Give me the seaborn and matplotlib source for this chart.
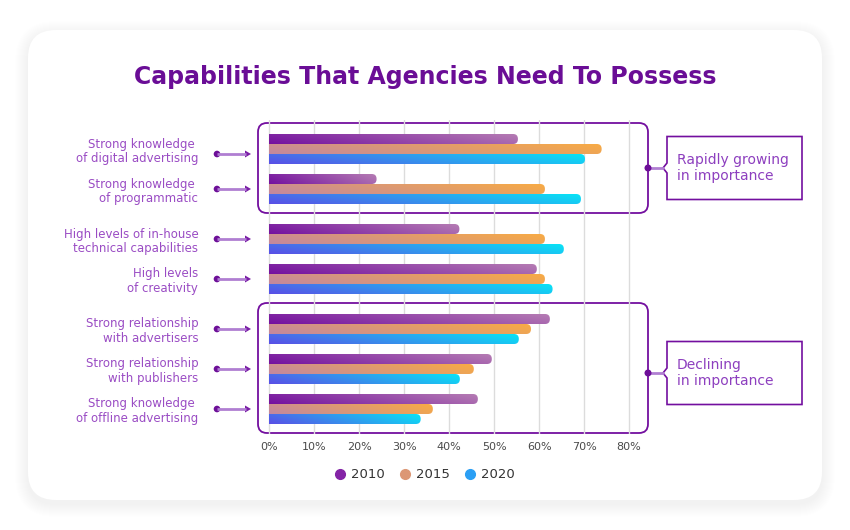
import numpy as np
import pandas as pd
import matplotlib
matplotlib.use("Agg")
import matplotlib.pyplot as plt
import seaborn as sns
from matplotlib.patches import FancyBboxPatch, Polygon, Circle
from matplotlib.colors import to_rgb
from matplotlib.lines import Line2D

# ---------------- data ----------------
capabilities = [
    "Strong knowledge \nof digital advertising",
    "Strong knowledge \nof programmatic",
    "High levels of in-house\ntechnical capabilities",
    "High levels\nof creativity",
    "Strong relationship\nwith advertisers",
    "Strong relationship\nwith publishers",
    "Strong knowledge \nof offline advertising",
]
groups = [0, 0, 1, 1, 2, 2, 2]  # 0 = growing, 1 = other, 2 = declining
years = ["2010", "2015", "2020"]
share_2010 = [55.3, 23.9, 42.3, 59.5, 62.4, 49.5, 46.4]
share_2015 = [73.9, 61.3, 61.3, 61.3, 58.2, 45.5, 36.4]
share_2020 = [70.2, 69.3, 65.5, 63.0, 55.5, 42.4, 33.7]
callouts = {0: "Rapidly growing\nin importance", 2: "Declining\nin importance"}
x_ticks = [0, 10, 20, 30, 40, 50, 60, 70, 80]

# gradient start/end colours per year
grad = {
    "2010": ("#73109f", "#b57cb3"),
    "2015": ("#c3889f", "#f8ab44"),
    "2020": ("#5a4fe6", "#08e4f6"),
}
legend_col = {"2010": "#8424a6", "2015": "#dc9775", "2020": "#2b9ff4"}

PURPLE = "#730f9f"
LIGHT = "#b07ed2"
LABEL = "#9a4cc4"

sns.set_style("white")
plt.rcParams["font.family"] = ["DejaVu Sans"]

W, H = 850, 530
fig = plt.figure(figsize=(8.5, 5.3), dpi=100)
fig.patch.set_facecolor("white")

# background layer in pixel coords
bg = fig.add_axes([0, 0, 1, 1], zorder=0)
bg.set_xlim(0, W)
bg.set_ylim(H, 0)
bg.axis("off")

# soft shadow + white card
for k in range(1, 14):
    bg.add_patch(FancyBboxPatch((28 - k, 30 - k + 4), 794 + 2 * k, 470 + 2 * k,
                                boxstyle=f"round,pad=0,rounding_size={28 + k}",
                                fc="black", ec="none", alpha=0.0035))
bg.add_patch(FancyBboxPatch((28, 30), 794, 470, boxstyle="round,pad=0,rounding_size=28",
                            fc="white", ec="none"))

bg.text(425, 77, "Capabilities That Agencies Need To Possess", ha="center", va="center",
        fontsize=17, fontweight="bold", color="#6a0d96")

# ---------------- bars ----------------
row_pos = [i + 0.25 * g for i, g in enumerate(groups)]
df = pd.DataFrame({
    "pos": row_pos * 3,
    "year": np.repeat(years, len(capabilities)),
    "share": share_2010 + share_2015 + share_2020,
})

ax = fig.add_axes([258 / W, (H - 434) / H, 390 / W, 314 / H], zorder=1)
ax.patch.set_alpha(0)
sns.barplot(data=df, x="share", y="pos", hue="year", orient="h", native_scale=True,
            width=0.75, palette=legend_col, errorbar=None, legend=False, ax=ax)

xlim = (-2.44, 84.2)
ylim = (7.125, -0.725)
ax.set_xlim(*xlim)
ax.set_ylim(*ylim)

px_x = ax.transData.transform((1, 0))[0] - ax.transData.transform((0, 0))[0]
px_y = abs(ax.transData.transform((0, 1))[1] - ax.transData.transform((0, 0))[1])
rx = 4.8 / px_x
ry = 4.8 / px_y

u = np.linspace(0, 1, 256)[None, :]
v = np.linspace(1, 0, 12)[:, None]
t = np.clip(0.82 * u + 0.18 * v, 0, 1)[..., None]

for year, cont in zip(years, ax.containers):
    c0 = np.array(to_rgb(grad[year][0]))
    c1 = np.array(to_rgb(grad[year][1]))
    rgb = c0 * (1 - t) + c1 * t
    for bar in cont:
        x0, y0, w, h = bar.get_x(), bar.get_y(), bar.get_width(), bar.get_height()
        bar.set_visible(False)
        clip = FancyBboxPatch((x0 - 2 * rx, y0), w + 2 * rx, h,
                              boxstyle=f"round,pad=0,rounding_size={rx}",
                              mutation_aspect=ry / rx, transform=ax.transData,
                              fc="none", ec="none")
        im = ax.imshow(rgb, extent=(x0, x0 + w, y0 + h, y0), aspect="auto",
                       interpolation="bilinear", zorder=3)
        im.set_clip_path(clip)

ax.set_xlim(*xlim)
ax.set_ylim(*ylim)
ax.set_xticks(x_ticks, labels=[f"{x}%" for x in x_ticks])
ax.set_yticks(row_pos, labels=capabilities)
ax.grid(axis="x", color="#dcdcdc", lw=1)
ax.grid(axis="y", visible=False)
ax.set_axisbelow(True)
ax.tick_params(axis="x", length=0, pad=5.5, labelsize=8, labelcolor="#4a4a4a")
ax.tick_params(axis="y", length=0, pad=43, labelsize=8.5, labelcolor=LABEL)
for lab in ax.get_yticklabels():
    lab.set_linespacing(1.15)
ax.set_xlabel("")
ax.set_ylabel("")
sns.despine(ax=ax, left=True, bottom=True)


def to_px(y):
    return H - ax.transData.transform((0, y))[1]


# ---------------- arrows next to labels ----------------
arrow_dy = [5, 0, 0, 0, 0, 0, 0]
for p, dy in zip(row_pos, arrow_dy):
    yc = to_px(p) + dy
    bg.plot([217, 246], [yc, yc], color=LIGHT, lw=2, solid_capstyle="butt")
    bg.add_patch(Polygon([[245, yc - 3.5], [251, yc], [245, yc + 3.5]], closed=True,
                         fc="#7a1da6", ec="none"))
    bg.add_patch(Circle((217, yc), 3.3, fc="#6d0f98", ec="none"))

# ---------------- brackets + callouts ----------------
left_px = ax.transData.transform((xlim[0], 0))[0]
right_px = ax.transData.transform((xlim[1], 0))[0]
callout_dy = {0: 0, 2: 5}
for g, text in callouts.items():
    rows = [p for p, gg in zip(row_pos, groups) if gg == g]
    top = to_px(rows[0]) - 15 - 11
    bot = to_px(rows[-1]) + 15 + 9
    bg.add_patch(FancyBboxPatch((left_px, top), right_px - left_px, bot - top,
                                boxstyle="round,pad=0,rounding_size=9",
                                fc="none", ec=PURPLE, lw=1.3))
    mid = (top + bot) / 2 + callout_dy[g]
    bx0, bx1 = 667, 802
    bg.plot([right_px, 663], [mid, mid], color=LIGHT, lw=2)
    bg.add_patch(Polygon([[bx0, mid - 31.5], [bx1, mid - 31.5], [bx1, mid + 31.5],
                          [bx0, mid + 31.5], [bx0, mid + 5], [663, mid], [bx0, mid - 5]],
                         closed=True, fc="white", ec=PURPLE, lw=1.2))
    bg.add_patch(Circle((right_px, mid), 3.5, fc="#6d0f98", ec="none", zorder=5))
    bg.text(677, mid, text, ha="left", va="center", fontsize=10, color="#8d3fbf",
            linespacing=1.2)

# ---------------- legend ----------------
handles = [Line2D([], [], marker="o", ls="", markersize=7, color=legend_col[y]) for y in years]
fig.legend(handles, years, loc="center", bbox_to_anchor=(424 / W, 1 - 475 / H), ncol=3,
           frameon=False, fontsize=9.5, handlelength=1.0, handletextpad=0.3,
           columnspacing=1.05, labelcolor="#333333")

fig.savefig("out.png", dpi=100)
